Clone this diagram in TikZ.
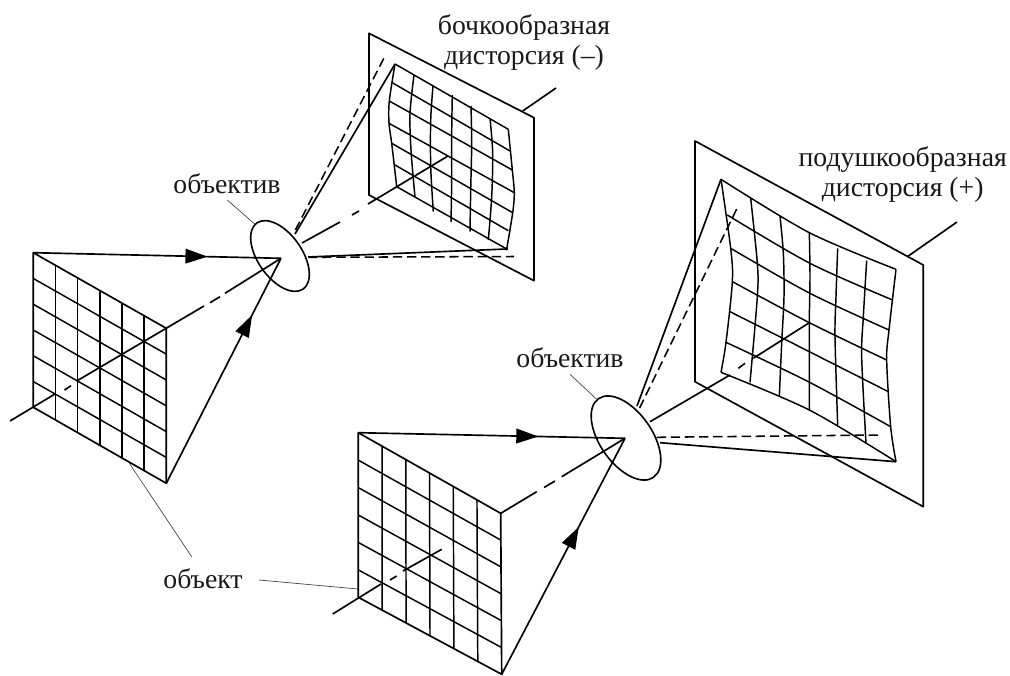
\documentclass[tikz,border=0pt]{standalone}
\usepackage{fontspec}
\setmainfont{Liberation Serif}
\usetikzlibrary{calc,shapes.geometric,arrows.meta,decorations.markings}
\tikzset{
  edgeline/.style={line width=1.25pt,black,line join=round},
  gridline/.style={line width=1.1pt,black},
  curveline/.style={line width=1.1pt,black,smooth},
  rayline/.style={line width=1.25pt,black},
  dashline/.style={line width=1.15pt,black,dash pattern=on 7pt off 3.6pt},
  leader/.style={line width=0.5pt,black!75},
  lensshape/.style={draw,ellipse,line width=1.2pt,inner sep=0pt,outer sep=0pt,rotate=-55},
  lbl/.style={font=\fontsize{20.8}{22.5}\selectfont,inner sep=0pt,align=center,text=black!90},
  headat/.style={postaction={decorate},decoration={markings,mark=at position #1 with {\arrow{Triangle[length=16.5pt,width=11pt]}}}}
}
\begin{document}
\begin{tikzpicture}[x=0.75pt,y=-0.75pt]
\useasboundingbox (0,0) rectangle (1010,675);
% ---------- left object
\coordinate (aTL) at (33.3,252.7); \coordinate (aTR) at (166.3,328.3);
\coordinate (aBL) at (33.3,407.3); \coordinate (aBR) at (166.3,483.3);
\foreach \i in {1,...,5}{
  \draw[gridline] ($(aTL)!\i/6!(aTR)$) -- ($(aBL)!\i/6!(aBR)$);
  \draw[gridline] ($(aTL)!\i/6!(aBL)$) -- ($(aTR)!\i/6!(aBR)$);
}
\draw[edgeline] (aTL) -- (aTR) -- (aBR) -- (aBL) -- cycle;
% left lens
\coordinate (aF) at (281,258.3);
\node[lensshape,minimum width=60.5pt,minimum height=33pt] (lensA) at (280,256) {};
\draw[rayline,headat=0.703] (aTL) -- (aF);
\draw[rayline,headat=0.748] (aBR) -- (aF);
\coordinate (a0) at (10,421); \coordinate (a1) at (55,394);
\coordinate (a2) at (64.5,390); \coordinate (a3) at (71,385.7);
\coordinate (a4) at (76.7,381); \coordinate (a5) at (204,306);
\coordinate (a6) at (210,302.7); \coordinate (a7) at (220,296.7);
\coordinate (a8) at (225,293.3);
\draw[rayline] (a0) -- (a1); \draw[rayline] (a2) -- (a3); \draw[rayline] (a4) -- (a5);
\draw[rayline] (a6) -- (a7); \draw[rayline] (a8) -- (aF);
% top-left image plate
\coordinate (bTL) at (369,33.3); \coordinate (bTR) at (534,117.7);
\coordinate (bBR) at (534,280.7); \coordinate (bBL) at (369,195);
\draw[edgeline] (bTL) -- (bTR) -- (bBR) -- (bBL) -- cycle;
\coordinate (bL) at (522.7,111); \coordinate (bLe) at (556,88);
\draw[rayline] (bL) -- (bLe);
% barrel grid rows
\foreach \xa/\ya/\xb/\yb in {395/64/508.3/129.3, 392.3/82.7/510/151, 389.3/101/512.3/170, 389/123.3/514.3/192.7, 391.7/143.3/512.7/212.7, 395/165/508.3/230.7, 396.7/186.7/506.7/249}{
  \draw[gridline] (\xa,\ya) -- (\xb,\yb);
}
% barrel grid columns
\draw[curveline] plot[smooth] coordinates {(395,64) (389.3,101) (389,123.3) (391.7,143.3) (396.7,186.7)};
\draw[curveline] plot[smooth] coordinates {(414,75) (410,113.3) (411,150) (415,197.3)};
\draw[curveline] plot[smooth] coordinates {(433,85.7) (430.7,120) (430.7,166.7) (433.3,211.7)};
\draw[curveline] plot[smooth] coordinates {(452.3,95) (451.7,133.3) (451.7,180) (451,222)};
\draw[curveline] plot[smooth] coordinates {(471,106) (471.7,143.3) (470.7,190) (470,231.7)};
\draw[curveline] plot[smooth] coordinates {(490,118.3) (492.7,153.3) (491.7,196.7) (488.3,240)};
\draw[curveline] plot[smooth] coordinates {(508.3,129.3) (512.3,170) (514.3,192.7) (512.7,212.7) (506.7,249)};
% rays leaving left lens
\coordinate (bC1) at (295,234); \coordinate (bCorner) at (395,64);
\draw[rayline] (bC1) -- (bCorner);
\coordinate (bD1) at (295.4,230); \coordinate (bD2) at (384,58);
\draw[dashline] (bD1) -- (bD2);
\coordinate (b1) at (302,243); \coordinate (b2) at (340,222); \coordinate (b3) at (352,215);
\coordinate (b4) at (359,211); \coordinate (b5) at (368,204); \coordinate (b6) at (448,156);
\draw[rayline] (b1) -- (b2); \draw[rayline] (b3) -- (b4); \draw[rayline] (b5) -- (b6);
\coordinate (bE1) at (308,257); \coordinate (bE2) at (506.7,249);
\draw[rayline] (bE1) -- (bE2);
\fill (bE2) circle (1.6);
\coordinate (bH1) at (308,257.3); \coordinate (bH2) at (514,256.5);
\draw[dashline] (bH1) -- (bH2);
% ---------- right object
\coordinate (cTL) at (358.3,432.7); \coordinate (cTR) at (500.7,513.3);
\coordinate (cBL) at (358.3,597.3); \coordinate (cBR) at (501.7,674.3);
\foreach \i in {1,...,5}{
  \draw[gridline] ($(cTL)!\i/6!(cTR)$) -- ($(cBL)!\i/6!(cBR)$);
  \draw[gridline] ($(cTL)!\i/6!(cBL)$) -- ($(cTR)!\i/6!(cBR)$);
}
\draw[edgeline] (cTL) -- (cTR) -- (cBR) -- (cBL) -- cycle;
\coordinate (cF) at (625,438.3);
\node[lensshape,minimum width=72pt,minimum height=39pt] (lensC) at (626,438) {};
\draw[rayline,headat=0.675] (cTL) -- (cF);
\draw[rayline,headat=0.625] (cBR) -- (cF);
\coordinate (c0) at (332.7,614); \coordinate (c1) at (381,584);
\coordinate (c2) at (390,580); \coordinate (c3) at (396.7,576);
\coordinate (c4) at (403,571); \coordinate (c5) at (441.7,549.3);
\coordinate (c6) at (536.7,491.7); \coordinate (c7) at (544,487.5);
\coordinate (c8) at (555,481); \coordinate (c9) at (561.7,476.7);
\draw[rayline] (c0) -- (c1); \draw[rayline] (c2) -- (c3); \draw[rayline] (c4) -- (c5);
\draw[rayline] (cTR) -- (c6); \draw[rayline] (c7) -- (c8); \draw[rayline] (c9) -- (cF);
% right image plate
\coordinate (dTL) at (695,141); \coordinate (dTR) at (923.3,265);
\coordinate (dBR) at (923.3,506.7); \coordinate (dBL) at (695,381.7);
\draw[edgeline] (dTL) -- (dTR) -- (dBR) -- (dBL) -- cycle;
\coordinate (dL) at (907.3,256.7); \coordinate (dLe) at (957,222);
\draw[rayline] (dL) -- (dLe);
% pincushion grid (zoomed measures)
\begin{scope}[shift={(680,130)},x=0.25pt,y=-0.25pt]
\draw[curveline] plot[smooth] coordinates {(123,148) (388,308) (648,418)};
\draw[curveline] plot[smooth] coordinates {(142,255) (390,400) (638,510)};
\draw[curveline] plot[smooth] coordinates {(152,355) (390,490) (627,600)};
\draw[curveline] plot[smooth] coordinates {(157,455) (388,578) (620,690)};
\draw[curveline] plot[smooth] coordinates {(150,545) (388,665) (625,785)};
\draw[curveline] plot[smooth] coordinates {(138,637) (385,755) (632,890)};
\draw[curveline] plot[smooth] coordinates {(123,727) (388,840) (648,995)};
\draw[curveline] plot[smooth] coordinates {(123,148) (152,355) (157,455) (138,637) (123,727)};
\draw[curveline] plot[smooth] coordinates {(212,205) (232,400) (232,500) (210,757)};
\draw[curveline] plot[smooth] coordinates {(300,258) (310,370) (312,500) (305,640) (298,800)};
\draw[curveline] plot[smooth] coordinates {(388,308) (390,440) (388,578) (388,840)};
\draw[curveline] plot[smooth] coordinates {(473,355) (468,500) (465,620) (473,885)};
\draw[curveline] plot[smooth] coordinates {(560,392) (550,560) (545,680) (558,940)};
\draw[curveline] plot[smooth] coordinates {(648,418) (627,600) (620,690) (632,890) (648,995)};
\end{scope}
% rays leaving right lens
\coordinate (dC1) at (637,406); \coordinate (dCorner) at (721,179.3);
\draw[rayline] (dC1) -- (dCorner);
\coordinate (dD1) at (639.6,408); \coordinate (dD2) at (736.7,209);
\draw[dashline] (dD1) -- (dD2);
\coordinate (d1) at (650,421.7); \coordinate (d2) at (730,375); \coordinate (d3) at (738.3,368.3);
\coordinate (d4) at (745,363.3); \coordinate (d5) at (753.3,358.3); \coordinate (d6) at (809.3,322.7);
\draw[rayline] (d1) -- (d2); \draw[rayline] (d3) -- (d4); \draw[rayline] (d5) -- (d6);
\coordinate (dE1) at (660,442.7); \coordinate (dE2) at (896,461.7);
\draw[rayline] (dE1) -- (dE2);
\coordinate (dH1) at (656.7,437.3); \coordinate (dH2) at (880,435);
\draw[dashline] (dH1) -- (dH2);
% ---------- labels and leaders
\node[lbl,anchor=base] (tLensA) at (227,193) {объектив};
\node[lbl,anchor=base] (tLensC) at (570,367.7) {объектив};
\node[lbl,anchor=base] (tObj) at (203,588) {объект};
\node[lbl] (tBarrel) at (524,43) {бочкообразная\\дисторсия (–)};
\node[lbl] (tPin) at (902.7,175) {подушкообразная\\дисторсия (+)};
\coordinate (la1) at (227.3,200); \coordinate (la2) at (255,224.3);
\draw[leader] (la1) -- (la2);
\coordinate (lc1) at (570,374.3); \coordinate (lc2) at (596.7,399.3);
\draw[leader] (lc1) -- (lc2);
\coordinate (lo1) at (128.3,461.7); \coordinate (lo2) at (191.7,556.7);
\draw[leader] (lo1) -- (lo2);
\coordinate (lo3) at (259,580); \coordinate (lo4) at (358,589);
\draw[leader] (lo3) -- (lo4);
\end{tikzpicture}
\end{document}
